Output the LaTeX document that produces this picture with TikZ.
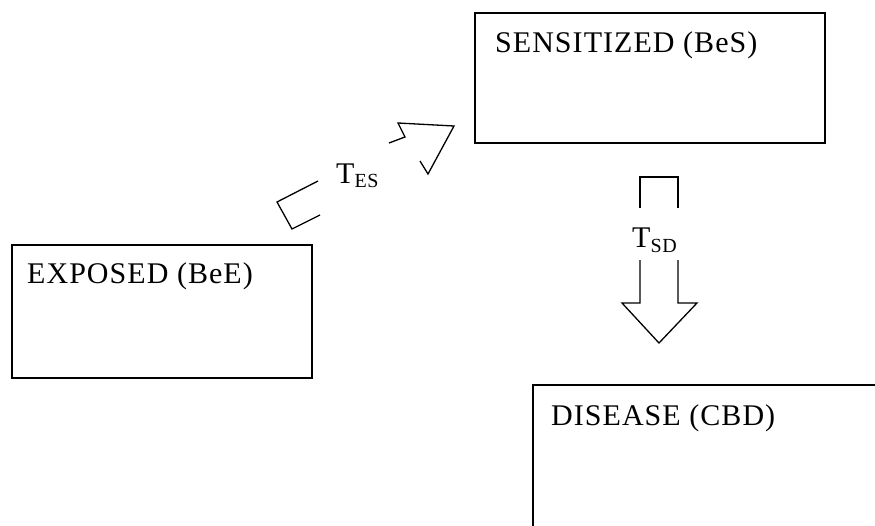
\documentclass[tikz,border=0pt]{standalone}
\usepackage{fontspec}
\setmainfont{Liberation Serif}
\newfontfamily\lsfont[LetterSpace=3.5]{Liberation Serif}
\begin{document}
\begin{tikzpicture}[x=1pt,y=-1pt,
  box/.style={draw, line width=1.4pt, outer sep=0pt, inner sep=0pt, anchor=north west},
  lbl/.style={anchor=base west, inner sep=0pt, font=\lsfont\fontsize{30}{36}\selectfont},
  blk/.style={line width=1.3pt, line join=miter}]
\useasboundingbox (0,0) rectangle (875,525);
% boxes
\node[box, minimum width=300pt, minimum height=133pt] (exp) at (12,245) {};
\node[box, minimum width=350pt, minimum height=130pt] (sen) at (475,13) {};
\coordinate (disTL) at (533,385);
\draw[line width=1.4pt] (533,526) -- (disTL) -- (876,385);
% labels
\node[lbl] (expT) at (27,283) {EXPOSED (BeE)};
\node[lbl] (senT) at (495,52) {SENSITIZED (BeS)};
\node[lbl] (disT) at (551,425) {DISEASE (CBD)};
% diagonal block arrow (pieces)
\draw[blk] (318,181) -- (277,202) -- (292,229) -- (320,215);
\draw[blk] (389,143) -- (405,137) -- (398,123) -- (454,126) -- (428,174) -- (420,161);
\node[lbl] (tes) at (336,183) {T\raisebox{-4pt}{\fontsize{20}{20}\selectfont ES}};
% vertical block arrow (pieces)
\draw[blk] (640,208) -- (640,177) -- (678,177) -- (678,208);
\draw[blk] (640,260) -- (640,303) -- (622,303) -- (659,343) -- (697,303) -- (678,303) -- (678,260);
\node[lbl] (tsd) at (632,247) {T\raisebox{-5pt}{\fontsize{20}{20}\selectfont SD}};
\end{tikzpicture}
\end{document}
